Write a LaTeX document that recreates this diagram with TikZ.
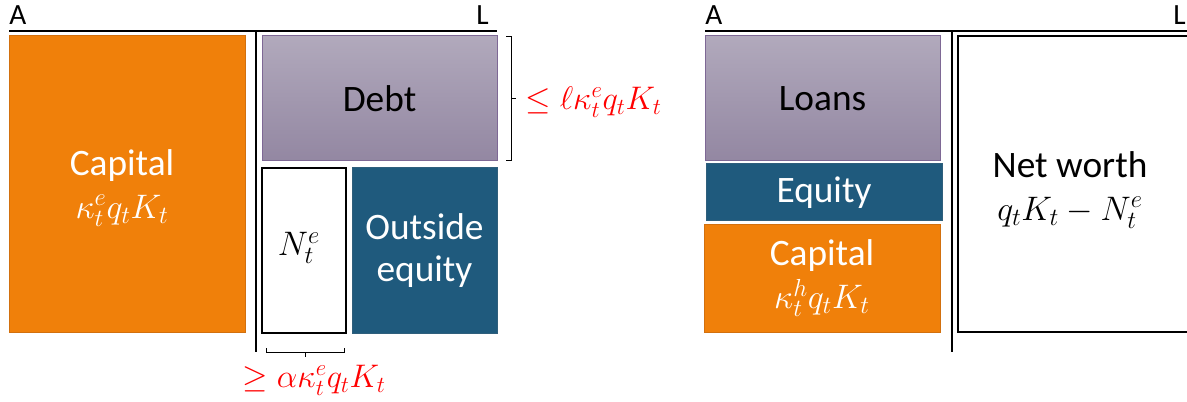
\documentclass[tikz,border=0pt]{standalone}
\usepackage{fix-cm}
\usepackage{fontspec}
\setmainfont{Carlito}
\usetikzlibrary{fit}
\DeclareMathSizes{28}{25.5}{18.5}{13}
\definecolor{orng}{HTML}{F0800A}
\definecolor{orngb}{HTML}{D2700E}
\definecolor{purT}{HTML}{B1A9BC}
\definecolor{purB}{HTML}{9387A2}
\definecolor{purD}{HTML}{7E6895}
\definecolor{eqblue}{HTML}{1F5A7D}
\definecolor{eqbord}{HTML}{2F5F7C}
\begin{document}
\begin{tikzpicture}[x=0.75pt,y=-0.75pt,
  box/.style={inner sep=0pt, line width=0.75pt},
  capbox/.style={box, fill=orng, draw=orngb},
  debtbox/.style={box, top color=purT, bottom color=purB, draw=purD},
  eqbox/.style={box, fill=eqblue, draw=eqbord},
  whitebox/.style={box, fill=white, draw=black, line width=1.2pt},
  big/.style={font=\fontsize{28}{32}\selectfont, align=center, inner sep=0pt},
  wtxt/.style={big, text=white},
  btxt/.style={big, text=black},
  hdr/.style={font=\fontsize{22}{26}\selectfont, inner sep=0pt},
  toprule/.style={line width=1.6pt},
  vrule/.style={line width=1.5pt},
  brk/.style={line width=0.7pt},
  lbl/.style={text=red, font=\fontsize{24.5}{28}\selectfont, inner sep=0pt}]
\useasboundingbox (0,0) rectangle (1187,402);

% ---------- left panel ----------
\node[hdr, anchor=base west] (A1) at (9,25) {A};
\node[hdr, anchor=base east] (L1) at (489,25) {L};
\coordinate (t1a) at (9,31);
\coordinate (t1b) at (497,31);
\draw[toprule] (t1a) -- (t1b);
\coordinate (v1a) at (256,31);
\coordinate (v1b) at (256,352);
\draw[vrule] (v1a) -- (v1b);

\node[capbox, fit={(9,36)(245,332)}] (capL) {};
\node[wtxt] (capLt) at (122,188) {Capital\\$\kappa_t^e q_t K_t$};

\node[debtbox, fit={(262,36)(497,161)}] (debt) {};
\node[btxt] (debtt) at (debt.center) {Debt};

\node[whitebox, fit={(262,168)(346,333)}] (nbox) {};
\node[btxt] (nboxt) at (299,248) {$N_t^e$};

\node[eqbox, fit={(352,168)(497,333)}] (oeq) {};
\node[wtxt] (oeqt) at (oeq.center) {Outside\\equity};

% right bracket
\coordinate (b1a) at (506,36);
\coordinate (b1b) at (511,36);
\coordinate (b1c) at (511,160);
\coordinate (b1d) at (506,160);
\coordinate (b1m) at (511,98);
\coordinate (b1t) at (516,98);
\draw[brk] (b1a) -- (b1b) -- (b1c) -- (b1d);
\draw[brk] (b1m) -- (b1t);
\node[lbl, anchor=west] (lim1) at (525,102) {$\leq \ell\kappa_t^e q_t K_t$};

% bottom bracket
\coordinate (b2a) at (266,348);
\coordinate (b2b) at (266,352);
\coordinate (b2c) at (344,352);
\coordinate (b2d) at (344,348);
\coordinate (b2m) at (305,352);
\coordinate (b2t) at (305,357);
\draw[brk] (b2a) -- (b2b) -- (b2c) -- (b2d);
\draw[brk] (b2m) -- (b2t);
\node[lbl] (lim2) at (314,380) {$\geq \alpha\kappa_t^e q_t K_t$};

% ---------- right panel ----------
\node[hdr, anchor=base west] (A2) at (705,25) {A};
\node[hdr, anchor=base east] (L2) at (1186,25) {L};
\coordinate (t2a) at (705,31);
\coordinate (t2b) at (1190,31);
\draw[toprule] (t2a) -- (t2b);
\coordinate (v2a) at (952,31);
\coordinate (v2b) at (952,352);
\draw[vrule] (v2a) -- (v2b);

\node[debtbox, fit={(705,36)(940,161)}] (loans) {};
\node[btxt] (loanst) at (loans.center) {Loans};

\node[eqbox, fit={(706,164)(942,221)}] (eqR) {};
\node[wtxt] (eqRt) at (eqR.center) {Equity};

\node[capbox, fit={(704,225)(940,332)}] (capR) {};
\node[wtxt] (capRt) at (capR.center) {Capital\\$\kappa_t^h q_t K_t$};

\node[whitebox, fit={(958,36)(1200,332)}] (nw) {};
\node[btxt] (nwt) at (1070,190) {Net worth\\$q_t K_t - N_t^e$};
\end{tikzpicture}
\end{document}
